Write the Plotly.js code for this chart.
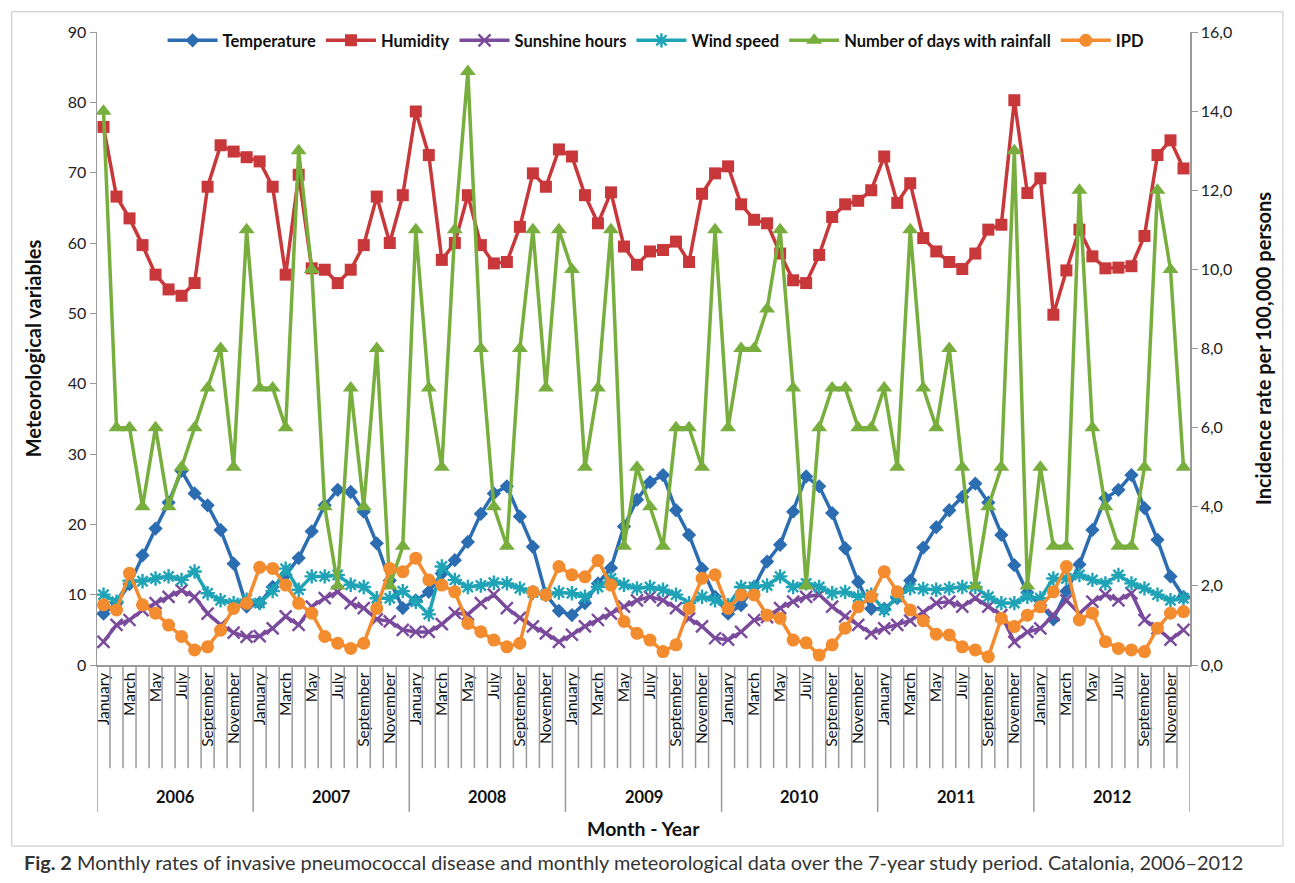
<!DOCTYPE html>
<html>
<head>
<meta charset="utf-8">
<script src="https://cdn.plot.ly/plotly-3.0.1.min.js"></script>
<style>
html,body{margin:0;padding:0;background:#fff;}
#chart{width:1295px;height:883px;}
</style>
</head>
<body>
<div id="chart"></div>
<script>
// ---- data ----
const monthNames = ["January","February","March","April","May","June","July","August","September","October","November","December"];
const years = ["2006","2007","2008","2009","2010","2011","2012"];

const temperature = [
  7.3, 8.8, 11.5, 15.6, 19.4, 23.1, 27.6, 24.4, 22.7, 19.2, 14.4, 8.3,
  8.8, 11.1, 12.8, 15.2, 19.0, 22.7, 24.9, 24.6, 21.8, 17.3, 12.0, 8.1,
  9.2, 10.4, 13.0, 14.9, 17.5, 21.5, 24.4, 25.4, 21.1, 16.8, 10.0, 7.7,
  7.1, 8.8, 11.6, 13.8, 19.7, 23.5, 26.0, 27.0, 22.0, 18.5, 13.7, 9.7,
  7.3, 8.5, 11.1, 14.7, 17.1, 21.8, 26.8, 25.4, 21.6, 16.6, 11.8, 8.0,
  8.0, 9.5, 12.0, 16.7, 19.6, 22.0, 23.9, 25.8, 23.1, 18.5, 14.2, 10.3,
  8.5, 6.5, 10.5, 14.3, 19.2, 23.7, 24.9, 27.0, 22.3, 17.8, 12.6, 9.7
];
const humidity = [
  76.5, 66.6, 63.5, 59.7, 55.5, 53.4, 52.5, 54.3, 68.0, 73.9, 73.0, 72.2,
  71.6, 68.0, 55.5, 69.7, 56.4, 56.2, 54.3, 56.2, 59.7, 66.6, 60.0, 66.8,
  78.7, 72.5, 57.6, 60.0, 66.8, 59.7, 57.1, 57.3, 62.3, 69.9, 68.0, 73.3,
  72.3, 66.8, 62.8, 67.2, 59.5, 56.9, 58.8, 59.0, 60.2, 57.3, 67.0, 69.9,
  70.9, 65.5, 63.3, 62.8, 58.5, 54.7, 54.3, 58.3, 63.7, 65.5, 66.0, 67.5,
  72.3, 65.7, 68.5, 60.7, 58.8, 57.3, 56.3, 58.5, 61.9, 62.6, 80.3, 67.1,
  69.2, 49.8, 56.1, 61.9, 58.1, 56.4, 56.5, 56.7, 61.0, 72.5, 74.6, 70.6
];
const sunshine = [
  3.3, 5.7, 6.4, 7.8, 8.8, 9.7, 10.6, 9.7, 7.3, 5.7, 4.6, 4.0,
  4.1, 5.2, 6.9, 5.7, 8.3, 9.5, 10.4, 8.8, 8.1, 6.5, 6.2, 5.0,
  4.7, 4.7, 5.8, 7.4, 7.2, 8.8, 10.0, 8.1, 6.7, 5.5, 4.5, 3.3,
  4.3, 5.5, 6.4, 7.3, 8.3, 9.2, 9.7, 9.2, 8.1, 6.6, 5.5, 3.8,
  3.6, 4.7, 6.4, 6.8, 8.1, 9.0, 9.7, 10.0, 8.3, 6.9, 5.7, 4.5,
  5.2, 5.7, 6.3, 7.5, 8.8, 9.0, 8.3, 9.5, 8.3, 7.1, 3.3, 4.7,
  5.2, 7.1, 9.2, 7.3, 9.0, 10.0, 9.2, 10.2, 6.4, 5.2, 3.6, 5.0
];
const windSpeed = [
  10.0, 9.0, 12.0, 11.9, 12.3, 12.6, 12.1, 13.3, 10.2, 9.2, 8.8, 9.3,
  8.8, 10.5, 13.7, 10.7, 12.6, 12.6, 12.8, 11.4, 11.1, 9.5, 9.5, 10.5,
  9.0, 7.2, 14.0, 12.1, 11.1, 11.3, 11.7, 11.6, 10.9, 10.3, 10.0, 10.3,
  10.2, 9.7, 11.1, 12.3, 11.4, 10.9, 11.1, 10.7, 10.0, 8.8, 9.7, 9.2,
  8.5, 11.1, 11.1, 11.3, 12.6, 11.1, 11.6, 11.1, 10.2, 10.4, 9.7, 10.0,
  7.8, 9.7, 10.9, 10.8, 10.7, 10.9, 11.1, 11.1, 9.7, 8.8, 8.8, 9.7,
  9.5, 12.3, 12.3, 12.8, 12.1, 11.6, 12.8, 11.6, 10.9, 10.0, 9.2, 9.5
];
const rainDays = [
  14, 6, 6, 4, 6, 4, 5, 6, 7, 8, 5, 11,
  7, 7, 6, 13, 10, 4, 2, 7, 4, 8, 2, 3,
  11, 7, 5, 11, 15, 8, 4, 3, 8, 11, 7, 11,
  10, 5, 7, 11, 3, 5, 4, 3, 6, 6, 5, 11,
  6, 8, 8, 9, 11, 7, 2, 6, 7, 7, 6, 6,
  7, 5, 11, 7, 6, 8, 5, 2, 4, 5, 13, 2,
  5, 3, 3, 12, 6, 4, 3, 3, 5, 12, 10, 5
];
const ipd = [
  1.52, 1.39, 2.32, 1.52, 1.31, 1.01, 0.72, 0.38, 0.46, 0.88, 1.43, 1.56,
  2.47, 2.44, 2.02, 1.56, 1.31, 0.72, 0.55, 0.42, 0.55, 1.43, 2.44, 2.36,
  2.70, 2.15, 2.02, 1.85, 1.05, 0.84, 0.63, 0.46, 0.55, 1.85, 1.77, 2.49,
  2.28, 2.23, 2.64, 2.02, 1.10, 0.80, 0.63, 0.34, 0.51, 1.43, 2.19, 2.28,
  1.43, 1.77, 1.77, 1.26, 1.18, 0.63, 0.56, 0.25, 0.51, 0.93, 1.47, 1.73,
  2.36, 1.85, 1.39, 1.12, 0.78, 0.76, 0.46, 0.38, 0.21, 1.18, 0.97, 1.26,
  1.47, 1.85, 2.49, 1.14, 1.31, 0.59, 0.42, 0.38, 0.34, 0.93, 1.31, 1.35
];

// ---- derived positions (category index along the x axis) ----
const nMonths = years.length * monthNames.length;
const xIdx = Array.from({length: nMonths}, (_, i) => i);
const labelIdx = xIdx.filter(i => (i % 12) % 2 === 0);
const labelText = labelIdx.map(i => monthNames[i % 12]);

const FONT = "Lato, 'Open Sans', 'DejaVu Sans', sans-serif";

function series(name, y, color, symbol, size, axis, extra) {
  return {
    type: 'scatter', mode: 'lines+markers', name: name,
    x: xIdx, y: y, yaxis: axis,
    line: {color: color, width: 3.5},
    marker: Object.assign({symbol: symbol, size: size, color: color}, extra || {})
  };
}

const traces = [
  series('Temperature', temperature, '#2C6DB2', 'diamond', 11, 'y'),
  series('Humidity', humidity, '#C8383A', 'square', 12, 'y'),
  series('Sunshine hours', sunshine, '#7A4A9C', 'x-thin-open', 12, 'y', {line: {color: '#7A4A9C', width: 2.4}}),
  series('Wind speed', windSpeed, '#1FA3B6', 'asterisk-open', 12, 'y', {line: {color: '#1FA3B6', width: 2.4}}),
  series('Number of days with rainfall', rainDays, '#78AE3E', 'triangle-up', 14, 'y2'),
  series('IPD', ipd, '#F38B2F', 'circle', 13, 'y2')
];

// ---- separators, year labels ----
const shapes = [];
for (let k = 0; k <= nMonths; k++) {
  const isYear = k % 12 === 0;
  shapes.push({
    type: 'line', xref: 'x', yref: 'paper',
    x0: k - 0.5, x1: k - 0.5, y0: 0, y1: isYear ? -0.232 : -0.163,
    line: {color: '#9a9a9a', width: 1.5}
  });
}
// outer frame
shapes.push({type: 'rect', xref: 'paper', yref: 'paper', x0: -0.078, x1: 1.085, y0: -0.286, y1: 1.032,
  line: {color: '#c4c4c4', width: 1}});

const annotations = years.map((yr, i) => ({
  xref: 'x', yref: 'paper', x: i * 12 + 5.5, y: -0.2085, yanchor: 'middle', xanchor: 'center',
  text: yr, showarrow: false,
  font: {family: FONT, size: 16.5, color: '#111', weight: 'bold'}
}));
annotations.push({
  xref: 'paper', yref: 'paper', x: 0.5, y: -0.258, xanchor: 'center', yanchor: 'middle',
  text: 'Month - Year', showarrow: false,
  font: {family: FONT, size: 19.5, color: '#111', weight: 'bold'}
});
annotations.push({
  xref: 'paper', yref: 'paper', x: -0.0686, y: -0.311, xanchor: 'left', yanchor: 'middle',
  text: '<b>Fig. 2</b> Monthly rates of invasive pneumococcal disease and monthly meteorological data over the 7-year study period. Catalonia, 2006–2012',
  showarrow: false, font: {family: FONT, size: 19.9, color: '#333'}
});

const layout = {
  width: 1295, height: 883,
  margin: {l: 97, r: 105, t: 32, b: 218},
  paper_bgcolor: '#fff', plot_bgcolor: '#fff',
  separators: ',.',
  font: {family: FONT, size: 15, color: '#222'},
  showlegend: true,
  legend: {
    orientation: 'h', x: 0.06, y: 1.014, xanchor: 'left', yanchor: 'top',
    bgcolor: 'rgba(0,0,0,0)', font: {family: FONT, size: 16.5, color: '#111', weight: 'bold'},
    itemwidth: 50, tracegroupgap: 0
  },
  xaxis: {
    range: [-0.5, nMonths - 0.5], showgrid: false, zeroline: false,
    showline: true, linecolor: '#9a9a9a', linewidth: 1.5,
    tickmode: 'array', tickvals: labelIdx, ticktext: labelText,
    ticks: '', tickangle: -90, tickfont: {family: FONT, size: 15.5, color: '#111'}
  },
  yaxis: {
    range: [0, 90], dtick: 10, showgrid: false, zeroline: false,
    showline: true, linecolor: '#9a9a9a', linewidth: 1.5,
    ticks: 'outside', ticklen: 6, tickcolor: '#9a9a9a',
    tickfont: {family: FONT, size: 16, color: '#222'},
    title: {text: 'Meteorological variables', standoff: 20,
      font: {family: FONT, size: 20, color: '#111', weight: 'bold'}}
  },
  yaxis2: {
    overlaying: 'y', side: 'right', range: [0, 16], dtick: 2, tickformat: '.1f',
    showgrid: false, zeroline: false,
    showline: true, linecolor: '#9a9a9a', linewidth: 1.5,
    ticks: 'outside', ticklen: 6, tickcolor: '#9a9a9a',
    tickfont: {family: FONT, size: 16, color: '#222'},
    title: {text: 'Incidence rate per 100,000 persons', standoff: 26,
      font: {family: FONT, size: 20, color: '#111', weight: 'bold'}}
  },
  shapes: shapes,
  annotations: annotations
};

Plotly.newPlot('chart', traces, layout, {displayModeBar: false, staticPlot: true});
</script>
</body>
</html>
